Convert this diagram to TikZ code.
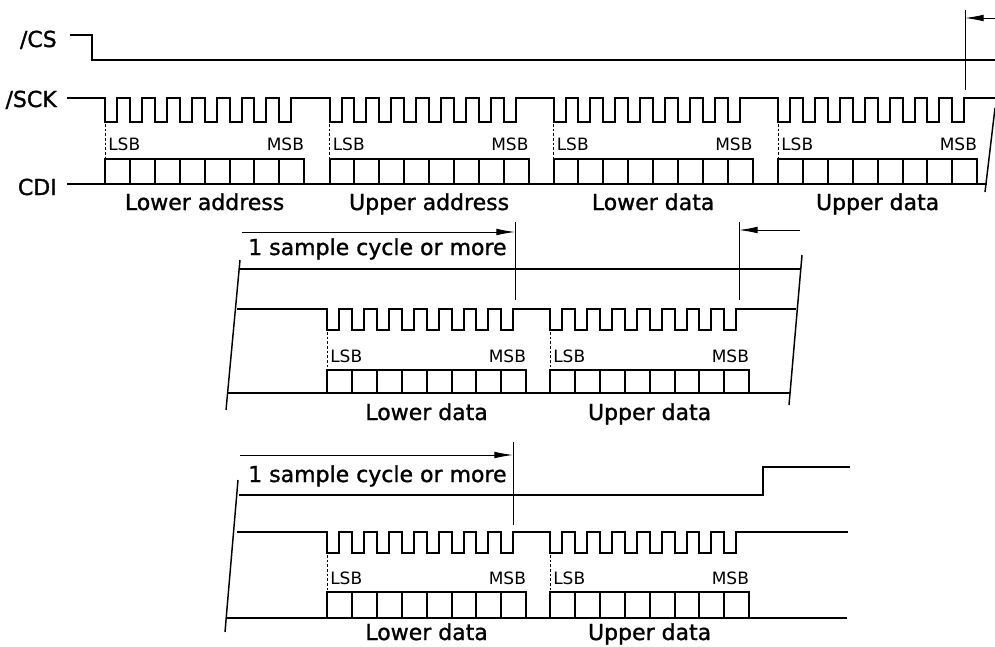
\documentclass[tikz,border=0pt]{standalone}
\usepackage{fontspec}
\setmainfont{DejaVu Sans}
\newfontfamily\heavyfont{DejaVu Sans}[FakeBold=1.3]
\usetikzlibrary{arrows.meta}

\tikzset{
  sig/.style={line width=1.5pt, line join=miter},
  guide/.style={line width=0.7pt},
  timing/.style={guide, -{Latex[length=14pt,width=5pt]}},
  bitmark/.style={line width=0.6pt, dash pattern=on 2pt off 1.5pt},
  cutline/.style={line width=1.1pt},
  signame/.style={font=\heavyfont\fontsize{16.5}{18}\selectfont, anchor=base east, inner sep=0pt},
  bytename/.style={font=\heavyfont\fontsize{16.5}{18}\selectfont, anchor=base, inner sep=0pt},
  bitname/.style={font=\fontsize{12.75}{14}\selectfont, inner sep=0pt},
}

\begin{document}
\begin{tikzpicture}[x=0.75pt, y=-0.75pt]
\useasboundingbox (0,0) rectangle (995,646);

% --- four byte transfer ---
\node[signame] (cs) at (57,47) {/CS};
\node[signame] (sck) at (57,107) {/SCK};
\node[signame] (cdi) at (57,195) {CDI};

\draw[sig] (70,35) -- (92,35) -- (92,60) -- (995,60);
\draw[sig] (67,98) \foreach \b in {105,329.5,553.5,778} {
    \foreach \k in {0,...,7} {
      -- (\b+\k*24.9,98) -- (\b+\k*24.9,122) -- (\b+\k*24.9+12,122) -- (\b+\k*24.9+12,98)
    }} -- (995,98);
\draw[sig] (67,184) -- (987,184);
\foreach \b/\txt [count=\i] in {105/Lower address, 329.5/Upper address, 553.5/Lower data, 778/Upper data} {
  \draw[sig] (\b,184) -- (\b,159) -- (\b+199.2,159) -- (\b+199.2,184);
  \foreach \k in {1,...,7} \draw[sig] (\b+\k*24.9,159) -- (\b+\k*24.9,184);
  \draw[bitmark] (\b,124) -- (\b,159);
  \node[bitname, anchor=base west] (lsbA\i) at (\b+3,150) {LSB};
  \node[bitname, anchor=base east] (msbA\i) at (\b+199.2,150) {MSB};
  \node[bytename] (byteA\i) at (\b+99.6,210) {\txt};
}
\coordinate (endA) at (965,18);
\coordinate (endAr) at (995,18);
\draw[guide] (965,10) -- (965,90);
\draw[timing] (endAr) -- (endA);
\draw[cutline] (995,108) -- (985,192);

% --- two byte transfer, /CS kept low ---
\coordinate (cycB) at (242,232);
\coordinate (cycBe) at (515,232);
\draw[timing] (cycB) -- (cycBe);
\draw[guide] (515,222) -- (515,300);
\node[bytename, anchor=base west] (cycleB) at (248,255) {1 sample cycle or more};
\coordinate (endB) at (739,230);
\coordinate (endBr) at (800,230);
\draw[guide] (739,222) -- (739,300);
\draw[timing] (endBr) -- (endB);

\draw[sig] (239,269) -- (801,269);
\draw[sig] (237,309) \foreach \b in {327,550} {
    \foreach \k in {0,...,7} {
      -- (\b+\k*24.9,309) -- (\b+\k*24.9,330) -- (\b+\k*24.9+12,330) -- (\b+\k*24.9+12,309)
    }} -- (796,309);
\draw[sig] (227,393) -- (790,393);
\foreach \b/\txt [count=\i] in {327/Lower data, 550/Upper data} {
  \draw[sig] (\b,393) -- (\b,370) -- (\b+199.2,370) -- (\b+199.2,393);
  \foreach \k in {1,...,7} \draw[sig] (\b+\k*24.9,370) -- (\b+\k*24.9,393);
  \draw[bitmark] (\b,332) -- (\b,370);
  \node[bitname, anchor=base west] (lsbB\i) at (\b+3,362) {LSB};
  \node[bitname, anchor=base east] (msbB\i) at (\b+199.2,362) {MSB};
  \node[bytename] (byteB\i) at (\b+99.6,420) {\txt};
}
\draw[cutline] (240,260) -- (226,410);
\draw[cutline] (802,255) -- (789,405);

% --- two byte transfer, /CS back high ---
\coordinate (cycC) at (240,455);
\coordinate (cycCe) at (513,455);
\draw[timing] (cycC) -- (cycCe);
\draw[guide] (513,442) -- (513,525);
\node[bytename, anchor=base west] (cycleC) at (248,482) {1 sample cycle or more};

\draw[sig] (239,495) -- (763,495) -- (763,467) -- (850,467);
\draw[sig] (237,532) \foreach \b in {327,550} {
    \foreach \k in {0,...,7} {
      -- (\b+\k*24.9,532) -- (\b+\k*24.9,553) -- (\b+\k*24.9+12,553) -- (\b+\k*24.9+12,532)
    }} -- (848,532);
\draw[sig] (227,618) -- (847,618);
\foreach \b/\txt [count=\i] in {327/Lower data, 550/Upper data} {
  \draw[sig] (\b,618) -- (\b,592) -- (\b+199.2,592) -- (\b+199.2,618);
  \foreach \k in {1,...,7} \draw[sig] (\b+\k*24.9,592) -- (\b+\k*24.9,618);
  \draw[bitmark] (\b,555) -- (\b,592);
  \node[bitname, anchor=base west] (lsbC\i) at (\b+3,584) {LSB};
  \node[bitname, anchor=base east] (msbC\i) at (\b+199.2,584) {MSB};
  \node[bytename] (byteC\i) at (\b+99.6,640) {\txt};
}
\draw[cutline] (238,480) -- (225,632);
\end{tikzpicture}
\end{document}
